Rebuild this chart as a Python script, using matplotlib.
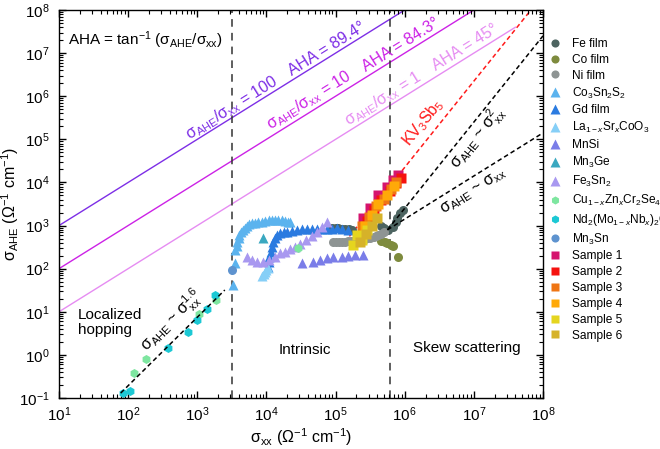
import numpy as np
import matplotlib
matplotlib.use("Agg")
import matplotlib.pyplot as plt

plt.rcParams['font.family'] = ['Liberation Sans', 'DejaVu Sans']
plt.rcParams['mathtext.fontset'] = 'custom'
plt.rcParams['mathtext.rm'] = 'Liberation Sans'
plt.rcParams['mathtext.it'] = 'Liberation Sans:italic'
plt.rcParams['mathtext.default'] = 'regular'

# ---- data (log10 values) ----
fe_x = [4.95, 5.00, 5.04, 5.09, 5.14, 5.19, 5.24, 5.65, 5.70, 5.76, 5.83, 5.87, 5.89, 5.93, 5.98]
fe_y = [2.94, 2.94, 2.94, 2.93, 2.92, 2.91, 2.90, 2.99, 2.95, 2.90, 2.97, 3.08, 3.17, 3.29, 3.36]
co_x = [5.66, 5.72, 5.75, 5.80, 5.83, 5.91]
co_y = [2.64, 2.62, 2.59, 2.56, 2.52, 2.27]
ni_x = [4.96, 5.01, 5.05, 5.10, 5.14, 5.18, 5.22, 5.26, 5.30, 5.34, 5.38, 5.42, 5.46, 5.50, 5.55, 5.59, 5.62, 5.66, 5.70]
ni_y = [2.62, 2.62, 2.62, 2.62, 2.63, 2.64, 2.65, 2.65, 2.66, 2.67, 2.68, 2.69, 2.70, 2.72, 2.74, 2.76, 2.78, 2.81, 2.85]
cosns_x = [3.52, 3.55, 3.55, 3.57, 3.58, 3.60, 3.61, 3.63, 3.66, 3.69, 3.72, 3.75, 3.79, 3.83, 3.88, 3.93, 3.98,
           4.03, 4.08, 4.12, 4.17, 4.22, 4.27, 4.31, 4.34]
cosns_y = [1.62, 2.13, 2.43, 2.53, 2.62, 2.71, 2.78, 2.85, 2.90, 2.95, 2.99, 3.03, 3.06, 3.07, 3.08, 3.09, 3.10,
           3.12, 3.13, 3.13, 3.13, 3.12, 3.10, 3.09, 3.08]
gd_x = [4.02, 4.03, 4.04, 4.06, 4.08, 4.10, 4.13, 4.16, 4.20, 4.25, 4.30, 4.37, 4.44, 4.51, 4.59, 4.66, 4.73,
        4.80, 4.88, 4.95, 5.02, 5.10, 5.18]
gd_y = [2.04, 2.15, 2.27, 2.39, 2.50, 2.61, 2.71, 2.78, 2.83, 2.84, 2.85, 2.88, 2.90, 2.91, 2.92, 2.92, 2.92,
        2.92, 2.92, 2.93, 2.94, 2.92, 2.90]
la_x = [3.94, 3.96, 3.98, 4.00, 4.02]
la_y = [1.83, 1.87, 1.92, 1.96, 2.01]
mnsi_x = [4.52, 4.68, 4.78, 4.88, 4.97, 5.10, 5.18, 5.28, 5.40]
mnsi_y = [2.13, 2.15, 2.20, 2.25, 2.27, 2.27, 2.29, 2.32, 2.32]
mnge_x = [3.95]
mnge_y = [2.71]
fesn_x = [3.72, 3.79, 3.87, 3.95, 4.04, 4.13, 4.20, 4.27, 4.34, 4.42, 4.49, 4.57, 4.66, 4.73, 4.81, 4.88]
fesn_y = [2.27, 2.20, 2.15, 2.15, 2.20, 2.27, 2.36, 2.38, 2.45, 2.50, 2.57, 2.66, 2.76, 2.85, 2.97, 3.08]
cu_x = [2.08, 2.26, 3.02, 3.27, 4.46]
cu_y = [-0.43, -0.10, 0.96, 1.27, 2.48]
nd_x = [1.93, 2.02, 2.57, 2.86, 2.99, 3.14, 3.26]
nd_y = [-0.89, -0.83, 0.15, 0.52, 0.81, 1.06, 1.39]
mnsn_x = [3.50]
mnsn_y = [1.97]
s1_x = [5.91, 5.83, 5.75, 5.62, 5.50, 5.40]
s1_y = [4.17, 4.06, 3.89, 3.71, 3.41, 3.17]
s2_x = [5.95, 5.87, 5.78, 5.66, 5.55, 5.45]
s2_y = [4.10, 3.98, 3.80, 3.60, 3.35, 3.10]
s3_x = [5.88, 5.80, 5.70, 5.58, 5.48, 5.38]
s3_y = [4.00, 3.85, 3.62, 3.45, 3.20, 3.00]
s4_x = [5.85, 5.74, 5.62, 5.52, 5.43]
s4_y = [3.92, 3.70, 3.50, 3.25, 2.98]
s5_x = [5.46, 5.38, 5.31, 5.25]
s5_y = [2.90, 2.66, 2.78, 2.55]
s6_x = [5.60, 5.52, 5.44, 5.36]
s6_y = [3.17, 3.00, 2.80, 2.62]

# guide lines
ratios = [100, 10, 1]
ratio_end = [1e6, 1e7, 10**7.6]
ratio_colors = ['#7d2ee6', '#cc22e6', '#e68cf2']
hop_x = [78, 2500]
hop_y = [0.13, 32]
sq_x = [10**5.75, 1e8]
sq_y = [10**2.9, 10**7.4]
lin_x = [10**5.75, 1e8]
lin_y = [10**2.9, 10**5.15]
kv_x = [10**5.2, 10**7.9]
kv_y = [10**2.75, 10**8.15]
bounds = [10**3.5, 10**5.79]

series = [
    ('Fe film', fe_x, fe_y, 'o', '#4d6461'),
    ('Co film', co_x, co_y, 'o', '#7e8b3e'),
    ('Ni film', ni_x, ni_y, 'o', '#8e9493'),
    ('Co$_3$Sn$_2$S$_2$', cosns_x, cosns_y, '^', '#5bb3ee'),
    ('Gd film', gd_x, gd_y, '^', '#2b7be0'),
    ('La$_{1\u2212\\mathit{x}}$Sr$_\\mathit{x}$CoO$_3$', la_x, la_y, '^', '#86cff7'),
    ('MnSi', mnsi_x, mnsi_y, '^', '#7a7de8'),
    ('Mn$_3$Ge', mnge_x, mnge_y, '^', '#3aa8c0'),
    ('Fe$_3$Sn$_2$', fesn_x, fesn_y, '^', '#a898f0'),
    ('Cu$_{1\u2212\\mathit{x}}$Zn$_\\mathit{x}$Cr$_2$Se$_4$', cu_x, cu_y, 'h', '#7ee6a0'),
    ('Nd$_2$(Mo$_{1\u2212\\mathit{x}}$Nb$_\\mathit{x}$)$_2$O$_7$', nd_x, nd_y, 'h', '#1cc8d4'),
    ('Mn$_3$Sn', mnsn_x, mnsn_y, 'o', '#5e93cf'),
    ('Sample 1', s1_x, s1_y, 's', '#d5146e'),
    ('Sample 2', s2_x, s2_y, 's', '#f5120f'),
    ('Sample 3', s3_x, s3_y, 's', '#ef7514'),
    ('Sample 4', s4_x, s4_y, 's', '#ffa908'),
    ('Sample 5', s5_x, s5_y, 's', '#e5d51f'),
    ('Sample 6', s6_x, s6_y, 's', '#d6b229'),
]

fig = plt.figure(figsize=(6.6, 4.49), dpi=100)
ax = fig.add_axes([59/660, 51/449, 484/660, 388/449])
ax.set_xscale('log')
ax.set_yscale('log')
ax.set_xlim(1e1, 1e8)
ax.set_ylim(1e-1, 1e8)

# ratio lines
for r, xe, c in zip(ratios, ratio_end, ratio_colors):
    ax.plot([10, xe], [10*r, xe*r], color=c, lw=1.0, zorder=1)

for b in bounds:
    ax.axvline(b, color='#333333', ls=(0, (5, 4)), lw=1.1, zorder=1)

ax.plot(hop_x, hop_y, color='black', ls=(0, (3, 2)), lw=1.1, zorder=3)
ax.plot(sq_x, sq_y, color='black', ls=(0, (3, 2)), lw=1.1, zorder=3)
ax.plot(lin_x, lin_y, color='black', ls=(0, (3, 2)), lw=1.1, zorder=3)
ax.plot(kv_x, kv_y, color='#ff1a1a', ls=(0, (3, 2)), lw=1.1, zorder=1)

for lab, lx, ly, m, c in series:
    ms = 7.5 if m == '^' else 6.5
    ax.plot(10**np.array(lx), 10**np.array(ly), ls='none', marker=m, ms=ms,
            color=c, mec='none', label=lab, zorder=2)

# text
ax.text(10**1.13, 10**7.30, 'AHA = tan$^{\u22121}$ (σ$_\\mathrm{AHE}$/σ$_\\mathrm{xx}$)',
        fontsize=11, ha='left', va='center')
kw = dict(ha='center', va='center', rotation_mode='anchor', fontsize=11.5)
ax.text(10**3.50, 10**5.73, 'σ$_\\mathrm{AHE}$/σ$_\\mathrm{xx}$ = 100', color=ratio_colors[0], rotation=32, **kw)
ax.text(10**4.87, 10**7.10, 'AHA = 89.4°', color=ratio_colors[0], rotation=32, **kw)
ax.text(10**4.62, 10**5.91, 'σ$_\\mathrm{AHE}$/σ$_\\mathrm{xx}$ = 10', color=ratio_colors[1], rotation=32, **kw)
ax.text(10**5.95, 10**7.19, 'AHA = 84.3°', color=ratio_colors[1], rotation=32, **kw)
ax.text(10**5.69, 10**5.94, 'σ$_\\mathrm{AHE}$/σ$_\\mathrm{xx}$ = 1', color=ratio_colors[2], rotation=32, **kw)
ax.text(10**6.88, 10**7.12, 'AHA = 45°', color=ratio_colors[2], rotation=32, **kw)
ax.text(10**6.27, 10**5.38, 'KV$_3$Sb$_5$', color='#ff1a1a', rotation=51, **kw)
ax.text(10**7.06, 10**5.03, 'σ$_\\mathrm{AHE}$ ~ σ$^2_\\mathrm{xx}$', rotation=51, **kw)
ax.text(10**6.99, 10**3.78, 'σ$_\\mathrm{AHE}$ ~ σ$_\\mathrm{xx}$', rotation=32, **kw)
ax.text(10**2.63, 10**0.78, 'σ$_\\mathrm{AHE}$ ~ σ$^{1.6}_\\mathrm{xx}$', rotation=45, **kw)
ax.text(10**1.27, 10**0.76, 'Localized\nhopping', fontsize=11, ha='left', va='center', linespacing=1.1)
ax.text(10**4.56, 10**0.12, 'Intrinsic', fontsize=11, ha='center', va='center')
ax.text(10**6.90, 10**0.17, 'Skew scattering', fontsize=11, ha='center', va='center')

ax.set_xlabel('σ$_\\mathrm{xx}$ (Ω$^{\u22121}$ cm$^{\u22121}$)', fontsize=11.5, labelpad=2)
ax.set_ylabel('σ$_\\mathrm{AHE}$ (Ω$^{\u22121}$ cm$^{\u22121}$)', fontsize=11.5)
ax.yaxis.set_label_coords(-0.078, 0.5)

ax.xaxis.set_major_locator(matplotlib.ticker.LogLocator(base=10, numticks=20))
ax.yaxis.set_major_locator(matplotlib.ticker.LogLocator(base=10, numticks=20))
ax.xaxis.set_minor_locator(matplotlib.ticker.LogLocator(base=10, subs=np.arange(2, 10), numticks=100))
ax.yaxis.set_minor_locator(matplotlib.ticker.LogLocator(base=10, subs=np.arange(2, 10), numticks=100))
ax.tick_params(which='both', direction='in', top=True, right=True, labelsize=11)
ax.tick_params(axis='y', pad=7)
ax.tick_params(axis='x', pad=5)
ax.tick_params(which='major', length=5, width=1)
ax.tick_params(which='minor', length=3, width=0.8)
for s in ax.spines.values():
    s.set_linewidth(1.0)

ax.legend(loc='upper left', bbox_to_anchor=(549/660, 1 - 38/449), bbox_transform=fig.transFigure,
          frameon=False, fontsize=8.6, handlelength=1.0, handletextpad=0.9, labelspacing=0.32,
          borderpad=0, borderaxespad=0, markerscale=0.9)

fig.savefig('out.png', dpi=100)
